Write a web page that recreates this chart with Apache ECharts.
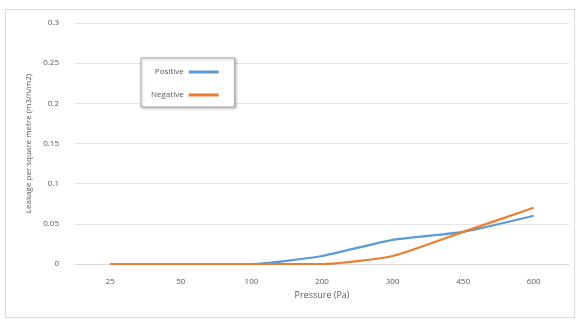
<!DOCTYPE html>
<html>
<head>
<meta charset="utf-8">
<script src="https://cdn.jsdelivr.net/npm/echarts@6/dist/echarts.min.js"></script>
<style>
  html, body { margin: 0; padding: 0; background: #fff; }
  #main { position: absolute; left: 5px; top: 9px; width: 570px; height: 309px; border: 1px solid #d9d9d9; box-sizing: border-box; }
</style>
</head>
<body>
<div id="main"></div>
<script>
// pressure categories (Pa)
const pressures = ["25", "50", "100", "200", "300", "450", "600"];
const positive = [0, 0, 0, 0.01, 0.03, 0.04, 0.06];
const negative = [0, 0, 0, 0, 0.01, 0.04, 0.07];
const yTicks = [0, 0.05, 0.1, 0.15, 0.2, 0.25, 0.3];

const chart = echarts.init(document.getElementById("main"));
const textColor = "#595959";

chart.setOption({
  animation: false,
  color: ["#5b9bd5", "#ed7d31"],
  grid: { left: 69, right: 5, top: 13, bottom: 53 },
  legend: {
    orient: "vertical",
    left: 135,
    top: 48,
    align: "right",
    itemWidth: 30,
    itemHeight: 3,
    itemGap: 15,
    padding: [10, 16, 8, 10],
    borderColor: "#a6a6a6",
    borderWidth: 1,
    shadowColor: "rgba(0,0,0,0.25)",
    shadowBlur: 3,
    shadowOffsetX: 1,
    shadowOffsetY: 1,
    backgroundColor: "#fff",
    icon: "rect",
    textStyle: { color: textColor, fontSize: 8, fontFamily: "Open Sans" },
    data: ["Positive", "Negative"]
  },
  xAxis: {
    type: "category",
    data: pressures,
    boundaryGap: true,
    name: "Pressure (Pa)",
    nameLocation: "middle",
    nameGap: 26,
    nameTextStyle: { color: textColor, fontSize: 9, fontFamily: "Open Sans" },
    axisLine: { lineStyle: { color: "#d9d9d9" } },
    axisTick: { show: false },
    axisLabel: { color: textColor, fontSize: 8, margin: 14, fontFamily: "Open Sans" }
  },
  yAxis: {
    type: "value",
    min: yTicks[0],
    max: yTicks[yTicks.length - 1],
    interval: 0.05,
    name: "Leakage per square metre (m3/h/m2)",
    nameLocation: "middle",
    nameGap: 40,
    nameTextStyle: { color: textColor, fontSize: 8, fontFamily: "Open Sans" },
    axisLine: { show: false },
    axisTick: { show: false },
    axisLabel: { color: textColor, fontSize: 8, margin: 16, fontFamily: "Open Sans" },
    splitLine: { lineStyle: { color: "#e6e6e6" } }
  },
  series: [
    {
      name: "Positive",
      type: "line",
      data: positive,
      smooth: 0.2,
      symbol: "none",
      lineStyle: { width: 2.2 }
    },
    {
      name: "Negative",
      type: "line",
      data: negative,
      smooth: 0.2,
      symbol: "none",
      lineStyle: { width: 2.2 }
    }
  ]
});
</script>
</body>
</html>
